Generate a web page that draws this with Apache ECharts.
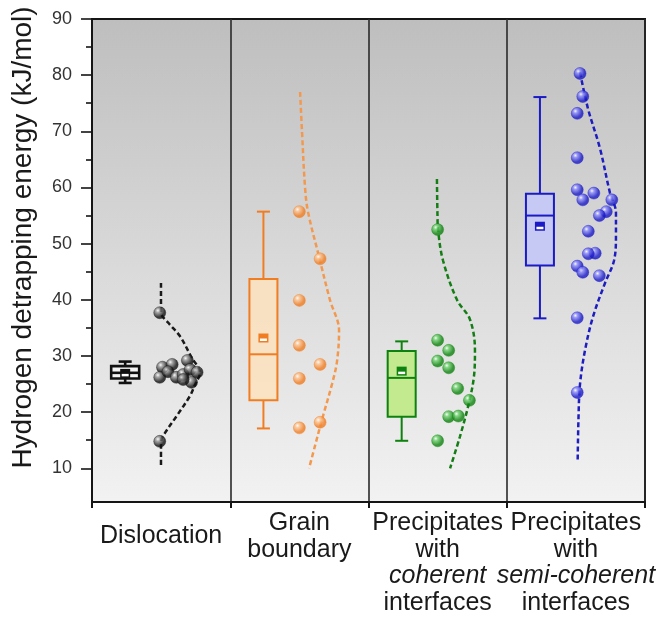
<!DOCTYPE html>
<html><head><meta charset="utf-8">
<script src="https://cdn.jsdelivr.net/npm/echarts@6/dist/echarts.min.js"></script>
<style>html,body{margin:0;padding:0;background:#fff}#c{width:660px;height:628px}</style>
</head><body><div id="c"></div>
<script>
// ---- data ----
const categories = ['Dislocation', 'Grain boundary', 'Precipitates with coherent interfaces', 'Precipitates with semi-coherent interfaces'];
const categoryLabels = ['{one|Dislocation}', 'Grain\nboundary', 'Precipitates\nwith\n{i|coherent}\ninterfaces', 'Precipitates\nwith\n{i|semi-coherent}\ninterfaces'];
const yMajorTicks = [10, 20, 30, 40, 50, 60, 70, 80, 90];
const yMinorTicks = [15, 25, 35, 45, 55, 65, 75, 85];
const yAxisTitle = 'Hydrogen detrapping energy (kJ/mol)';

// box statistics per category
const boxMin    = [25.2, 17.1, 14.9, 36.7];
const boxQ1     = [26.0, 22.1, 19.2, 46.1];
const boxMedian = [27.0, 30.3, 26.1, 55.0];
const boxQ3     = [28.2, 43.7, 30.9, 58.9];
const boxMax    = [29.0, 55.7, 32.6, 76.1];
const boxMean   = [26.9, 33.2, 27.3, 53.1];

// individual points (energy) and their horizontal jitter inside the category band
const dislocationEnergy = [37.7, 28.0, 28.5, 29.2, 26.2, 27.2, 26.2, 26.7, 27.6, 27.1, 25.3, 25.8, 14.8];
const dislocationJitter = [0.49, 0.51, 0.58, 0.69, 0.49, 0.55, 0.61, 0.66, 0.71, 0.76, 0.72, 0.66, 0.49];
const grainEnergy = [55.7, 47.3, 39.9, 31.9, 28.5, 26.0, 17.2, 18.2];
const grainJitter = [0.50, 0.65, 0.50, 0.50, 0.65, 0.50, 0.50, 0.65];
const coherentEnergy = [52.5, 32.8, 31.0, 29.1, 27.9, 24.2, 22.1, 19.2, 19.3, 14.9];
const coherentJitter = [0.50, 0.50, 0.58, 0.50, 0.58, 0.645, 0.73, 0.58, 0.65, 0.50];
const semiEnergy = [80.3, 76.2, 73.2, 65.3, 59.6, 59.0, 57.8, 57.8, 55.7, 55.0, 52.2, 48.3, 48.2, 46.0, 44.9, 44.3, 36.8, 23.5];
const semiJitter = [0.53, 0.55, 0.51, 0.51, 0.51, 0.63, 0.55, 0.76, 0.72, 0.67, 0.59, 0.64, 0.59, 0.51, 0.55, 0.67, 0.51, 0.51];

// fitted distribution curves: energy and horizontal position inside the band
const dislocationCurveEnergy = [43.0, 40.0, 37.7, 35.9, 33.5, 29.7, 27.0, 24.9, 22.9, 19.3, 16.3, 14.9, 12.0, 10.4];
const dislocationCurvePos    = [0.499, 0.499, 0.50, 0.552, 0.637, 0.721, 0.781, 0.745, 0.709, 0.612, 0.528, 0.50, 0.499, 0.499];
const grainCurveEnergy = [77.0, 70.0, 60.0, 55.7, 47.7, 40.0, 34.5, 29.0, 25.0, 18.7, 14.0, 10.0];
const grainCurvePos    = [0.505, 0.519, 0.541, 0.562, 0.642, 0.721, 0.787, 0.772, 0.736, 0.664, 0.613, 0.570];
const coherentCurveEnergy = [61.5, 55.0, 52.5, 47.0, 40.0, 36.5, 31.0, 26.4, 21.7, 15.7, 10.0];
const coherentCurvePos    = [0.495, 0.499, 0.503, 0.539, 0.640, 0.734, 0.770, 0.763, 0.727, 0.662, 0.590];
const semiCurveEnergy = [80.5, 74.0, 67.0, 59.0, 55.5, 51.5, 47.0, 43.0, 37.0, 31.0, 25.0, 19.0, 11.5];
const semiCurvePos    = [0.530, 0.588, 0.674, 0.747, 0.790, 0.790, 0.776, 0.711, 0.624, 0.566, 0.530, 0.519, 0.513];

// ---- styling ----
const FONT = 'Liberation Sans, Arial, sans-serif';
const colors = ['#111111', '#f07d22', '#0e820e', '#1a1ac6'];
const curveColors = ['#1a1a1a', '#f3994f', '#157d15', '#1d1dc0'];
const boxFills = ['#f4f4f4', 'rgba(253,224,190,0.85)', '#c3ea8e', '#c6c9f4'];
const lightColors = ['#9a9a9a', '#ffc48f', '#6fd46f', '#8c8cff'];
const BOX_OFFSET = 0.24;

const pointSets = [
  [dislocationEnergy, dislocationJitter],
  [grainEnergy, grainJitter],
  [coherentEnergy, coherentJitter],
  [semiEnergy, semiJitter]
];
const curveSets = [
  [dislocationCurveEnergy, dislocationCurvePos],
  [grainCurveEnergy, grainCurvePos],
  [coherentCurveEnergy, coherentCurvePos],
  [semiCurveEnergy, semiCurvePos]
];

function renderBox(params, api) {
  const i = api.value(0);
  const xc = api.coord([i + BOX_OFFSET, 50])[0];
  const y = v => api.coord([i, v])[1];
  const yMin = y(api.value(1)), yQ1 = y(api.value(2)), yMed = y(api.value(3)),
        yQ3 = y(api.value(4)), yMax = y(api.value(5)), yMean = y(api.value(6));
  const c = colors[i];
  const half = 14, cap = 6.5;
  const lw = i === 0 ? 2.6 : 2;
  const ls = {stroke: c, lineWidth: lw};
  return {type: 'group', children: [
    {type: 'line', shape: {x1: xc, y1: yMax, x2: xc, y2: yQ3}, style: ls},
    {type: 'line', shape: {x1: xc, y1: yQ1, x2: xc, y2: yMin}, style: ls},
    {type: 'line', shape: {x1: xc - cap, y1: yMax, x2: xc + cap, y2: yMax}, style: ls},
    {type: 'line', shape: {x1: xc - cap, y1: yMin, x2: xc + cap, y2: yMin}, style: ls},
    {type: 'rect', shape: {x: xc - half, y: yQ3, width: 2 * half, height: yQ1 - yQ3}, style: {fill: boxFills[i], stroke: c, lineWidth: lw}},
    {type: 'line', shape: {x1: xc - half, y1: yMed, x2: xc + half, y2: yMed}, style: ls},
    {type: 'rect', shape: {x: xc - 5, y: yMean - 4.5, width: 10, height: 9}, style: {fill: c}},
    {type: 'rect', shape: {x: xc - 3.5, y: yMean + 0.5, width: 7, height: 2.5}, style: {fill: '#ffffff'}}
  ]};
}

const series = [];
// curves
curveSets.forEach(([ev, pos], i) => {
  series.push({
    type: 'line', xAxisIndex: 1, yAxisIndex: 0, smooth: 0.35, symbol: 'none', z: 3,
    lineStyle: {color: curveColors[i], width: 2.5, type: [5, 3]},
    data: ev.map((v, k) => [i + pos[k], v])
  });
});
// boxes
series.push({
  type: 'custom', xAxisIndex: 1, yAxisIndex: 0, z: 4,
  renderItem: renderBox,
  encode: {x: 0, y: [1, 2, 3, 4, 5, 6]},
  data: categories.map((_, i) => [i, boxMin[i], boxQ1[i], boxMedian[i], boxQ3[i], boxMax[i], boxMean[i]])
});
// points
pointSets.forEach(([ev, jit], i) => {
  series.push({
    type: 'scatter', xAxisIndex: 1, yAxisIndex: 0, z: 5,
    symbolSize: 12,
    itemStyle: {
      color: {type: 'radial', x: 0.35, y: 0.32, r: 0.75, colorStops: [
        {offset: 0, color: '#ffffff'}, {offset: 0.22, color: lightColors[i]}, {offset: 0.7, color: colors[i]}, {offset: 1, color: colors[i]}
      ]},
      borderColor: colors[i], borderWidth: 0.5
    },
    data: ev.map((v, k) => [i + jit[k], v])
  });
});

const chart = echarts.init(document.getElementById('c'), null, {renderer: 'canvas'});
chart.setOption({
  animation: false,
  backgroundColor: '#ffffff',
  textStyle: {fontFamily: FONT},
  grid: {
    left: 92, right: 15, top: 19, bottom: 126, show: true,
    backgroundColor: new echarts.graphic.LinearGradient(0, 0, 0, 1, [
      {offset: 0, color: '#bebebe'}, {offset: 0.5, color: '#d9d9d9'}, {offset: 1, color: '#f2f2f2'}
    ]),
    borderColor: '#151515', borderWidth: 2
  },
  xAxis: [{
    type: 'category', data: categories, boundaryGap: true,
    axisLine: {lineStyle: {color: '#151515', width: 2}},
    axisTick: {show: true, length: 6, lineStyle: {color: '#151515', width: 2}},
    splitLine: {show: true, interval: 0, lineStyle: {color: '#2a2a2a', width: 1.6}},
    axisLabel: {
      interval: 0, margin: 8, color: '#1a1a1a', fontSize: 25, lineHeight: 26.5, fontFamily: FONT,
      verticalAlign: 'top',
      formatter: (v, idx) => categoryLabels[idx],
      rich: {
        one: {fontSize: 25, lineHeight: 53, fontFamily: FONT, color: '#1a1a1a'},
        i: {fontSize: 25, lineHeight: 26.5, fontStyle: 'italic', fontFamily: FONT, color: '#1a1a1a'}
      }
    }
  }, {
    type: 'value', min: 0, max: 4, show: false
  }],
  yAxis: [{
    type: 'value', min: 4, max: 90,
    name: yAxisTitle, nameLocation: 'middle', nameGap: 55,
    nameTextStyle: {fontSize: 28, color: '#1a1a1a', fontFamily: FONT, padding: [0, 0, 0, 46]},
    axisLine: {show: true, lineStyle: {color: '#151515', width: 2}},
    axisTick: {show: true, customValues: yMajorTicks, length: 11, lineStyle: {color: '#151515', width: 1.6}},
    axisLabel: {customValues: yMajorTicks, fontSize: 18, color: '#333333', margin: 20, fontFamily: FONT},
    splitLine: {show: false}
  }, {
    type: 'value', min: 4, max: 90, position: 'left',
    axisLine: {show: false},
    axisTick: {show: true, customValues: yMinorTicks, length: 6, lineStyle: {color: '#151515', width: 1.6}},
    axisLabel: {show: false},
    splitLine: {show: false}
  }],
  series: series
});
</script></body></html>
